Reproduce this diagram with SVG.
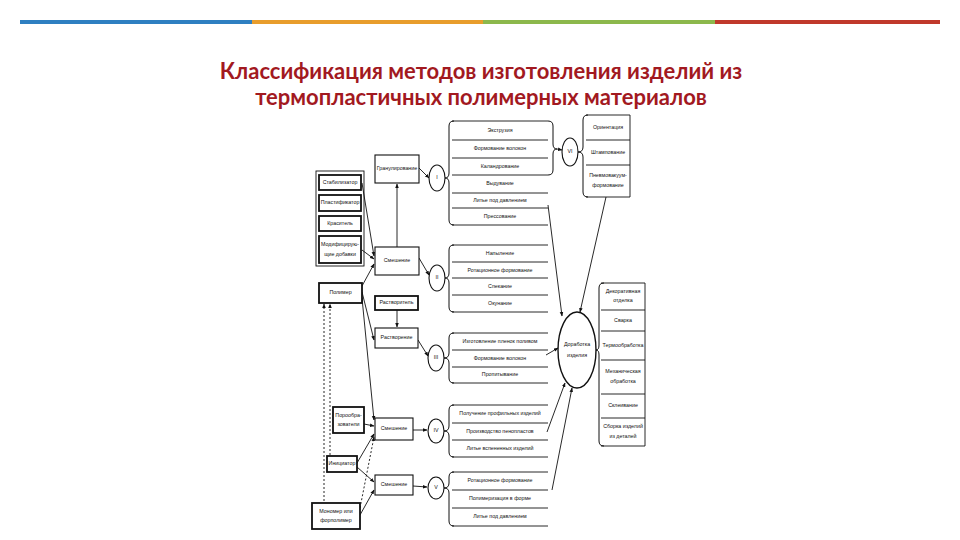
<svg xmlns="http://www.w3.org/2000/svg" width="960" height="540" viewBox="0 0 960 540">
<defs>
<marker id="ah" viewBox="0 0 10 10" refX="9" refY="5" markerWidth="5" markerHeight="5" orient="auto-start-reverse"><path d="M0,1 L10,5 L0,9 Z" fill="#111"/></marker>
<style>
.t{font-family:"Liberation Sans",Arial,sans-serif;font-size:5.3px;fill:#111;text-anchor:middle;dominant-baseline:middle}
.b{fill:#fff;stroke:#111;stroke-width:1.1}
.bx{fill:#fff;stroke:#111;stroke-width:1.8}
.r{stroke:#111;stroke-width:0.9;fill:none}
.br{stroke:#111;stroke-width:1;fill:none}
.c{stroke:#111;stroke-width:0.9;fill:none;marker-end:url(#ah)}
.d{stroke:#111;stroke-width:0.9;fill:none;stroke-dasharray:2 2;marker-end:url(#ah)}
.title{font-family:Lato,"Open Sans",sans-serif;font-weight:bold;font-size:22px;fill:#a2191f;text-anchor:middle}
</style>
</defs>
<rect width="960" height="540" fill="#fff"/>
<rect x="20" y="20" width="232" height="4" fill="#2e7fc1"/>
<rect x="252" y="20" width="231" height="4" fill="#e89d2c"/>
<rect x="483" y="20" width="232" height="4" fill="#8cb84c"/>
<rect x="715" y="20" width="225" height="4" fill="#c0392b"/>
<text class="title" x="481" y="79">Классификация методов изготовления изделий из</text>
<text class="title" x="481" y="105">термопластичных полимерных материалов</text>

<g id="connectors">
<path class="c" d="M397,247 L397,184"/>
<path class="c" d="M397,310 L397,327"/>
<path class="c" d="M419,168 L429,178"/>
<path class="c" d="M419,258 L429,275"/>
<path class="c" d="M418,340 L428,356"/>
<path class="c" d="M413,430 L427,430"/>
<path class="c" d="M413,486 L427,487"/>
<path class="c" d="M362,183 L374,256"/>
<path class="c" d="M362,250 L374,259"/>
<path class="c" d="M362,286 L374,264"/>
<path class="c" d="M362,292 L374,340"/>
<path class="c" d="M362,298 L374,420"/>
<path class="c" d="M364,424 L374,426"/>
<path class="c" d="M357,463 L374,434"/>
<path class="c" d="M357,467 L374,482"/>
<path class="d" d="M360,508 L374,437"/>
<path class="c" d="M360,515 L374,490"/>
<path class="d" d="M324,505 L324,304"/>
<path class="d" d="M330,455 L330,304"/>
<path class="c" d="M557,149 L562,150"/>
<path class="c" d="M548,205 L562,316"/>
<path class="c" d="M606,197 L580,312"/>
<path class="c" d="M546,355 L558,348"/>
<path class="c" d="M547,432 L565,383"/>
<path class="c" d="M552,490 L572,388"/>
</g>

<g id="inputs">
<rect class="r" x="316" y="171" width="48" height="95"/>
<g id="n-stab"><rect class="bx" x="319" y="175" width="42" height="15"/><text class="t" x="340" y="182.5">Стабилизатор</text></g>
<g id="n-plast"><rect class="bx" x="319" y="195" width="42" height="16"/><text class="t" x="340" y="203">Пластификатор</text></g>
<g id="n-kras"><rect class="bx" x="319" y="216" width="42" height="15"/><text class="t" x="340" y="223.5">Краситель</text></g>
<g id="n-mod"><rect class="bx" x="319" y="236" width="42" height="27"/><text class="t" x="340" y="245">Модифицирую-</text><text class="t" x="340" y="255">щие добавки</text></g>
</g>
<g id="n-polimer"><rect class="bx" x="319" y="283" width="43" height="20"/><text class="t" x="340.5" y="293">Полимер</text></g>
<g id="n-poro"><rect class="bx" x="333" y="407" width="31" height="26"/><text class="t" x="348.5" y="416">Порообра-</text><text class="t" x="348.5" y="425">зователи</text></g>
<g id="n-inic"><rect class="bx" x="327" y="456" width="30" height="16"/><text class="t" x="342" y="464">Инициатор</text></g>
<g id="n-monomer"><rect class="bx" x="312" y="503" width="48" height="26"/><text class="t" x="336" y="512">Мономер или</text><text class="t" x="336" y="521">форполимер</text></g>

<g id="n-gran"><rect class="b" x="375" y="155" width="44" height="28"/><text class="t" x="397" y="169">Гранулирование</text></g>
<g id="n-smesh1"><rect class="b" x="375" y="247" width="44" height="28"/><text class="t" x="397" y="261">Смешение</text></g>
<g id="n-rastvoritel"><rect class="bx" x="375" y="296" width="43" height="14"/><text class="t" x="396.5" y="303">Растворитель</text></g>
<g id="n-rastvorenie"><rect class="b" x="375" y="328" width="43" height="20"/><text class="t" x="396.5" y="338">Растворение</text></g>
<g id="n-smesh4"><rect class="b" x="375" y="418" width="38" height="22"/><text class="t" x="394" y="429">Смешение</text></g>
<g id="n-smesh5"><rect class="b" x="375" y="475" width="38" height="20"/><text class="t" x="394" y="485">Смешение</text></g>

<g id="c-I"><ellipse class="b" cx="437" cy="178" rx="8" ry="13"/><text class="t" x="437" y="178">I</text></g>
<g id="c-II"><ellipse class="b" cx="437" cy="278" rx="8" ry="13"/><text class="t" x="437" y="278">II</text></g>
<g id="c-III"><ellipse class="b" cx="436" cy="358" rx="8" ry="13"/><text class="t" x="436" y="358">III</text></g>
<g id="c-IV"><ellipse class="b" cx="436" cy="431" rx="8" ry="12"/><text class="t" x="436" y="431">IV</text></g>
<g id="c-V"><ellipse class="b" cx="436" cy="488" rx="8" ry="11"/><text class="t" x="436" y="488">V</text></g>
<g id="c-VI"><ellipse class="b" cx="570" cy="152" rx="8" ry="14"/><text class="t" x="570" y="152">VI</text></g>

<g id="g-I">
<path class="br" d="M454,121 Q449,121 449,126 L449,173 Q449,178 445,178 Q449,178 449,183 L449,220 Q449,225 454,225"/>
<path class="r" d="M452,121 H548 M452,140 H548 M452,158 H548 M452,175 H548 M452,193 H548 M452,208 H548 M452,225 H548"/>
<path class="br" d="M548,121 Q553,121 553,126 L553,144 Q553,149 557,149 Q553,149 553,154 L553,170 Q553,175 548,175"/>
<text class="t" x="500" y="130.5">Экструзия</text>
<text class="t" x="500" y="149">Формование волокон</text>
<text class="t" x="500" y="166.5">Каландрование</text>
<text class="t" x="500" y="184">Выдувание</text>
<text class="t" x="500" y="200.5">Литье под давлением</text>
<text class="t" x="500" y="216.5">Прессование</text>
</g>

<g id="g-VI">
<path class="br" d="M588,115 Q583,115 583,120 L583,147 Q583,152 578,152 Q583,152 583,157 L583,192 Q583,197 588,197"/>
<path class="r" d="M586,115 H630 V197 H586 M586,140 H630 M586,165 H630"/>
<text class="t" x="608" y="128">Ориентация</text>
<text class="t" x="608" y="153">Штампование</text>
<text class="t" x="608" y="176">Пневмовакуум-</text>
<text class="t" x="608" y="186">формование</text>
</g>

<g id="g-II">
<path class="br" d="M454,245 Q449,245 449,250 L449,273 Q449,278 445,278 Q449,278 449,283 L449,307 Q449,312 454,312"/>
<path class="r" d="M452,245 H548 M452,262 H548 M452,278 H548 M452,295 H548 M452,312 H548"/>
<text class="t" x="500" y="254">Напыление</text>
<text class="t" x="500" y="270.5">Ротационное формование</text>
<text class="t" x="500" y="286.5">Спекание</text>
<text class="t" x="500" y="303.5">Окунание</text>
</g>

<g id="g-III">
<path class="br" d="M454,333 Q449,333 449,338 L449,353 Q449,358 444,358 Q449,358 449,363 L449,378 Q449,383 454,383"/>
<path class="r" d="M452,333 H548 M452,350 H548 M452,367 H548 M452,383 H548"/>
<text class="t" x="500" y="341.5">Изготовление пленок поливом</text>
<text class="t" x="500" y="358.5">Формование волокон</text>
<text class="t" x="500" y="375">Пропитывание</text>
</g>

<g id="g-IV">
<path class="br" d="M454,405 Q449,405 449,410 L449,426 Q449,431 444,431 Q449,431 449,436 L449,452 Q449,457 454,457"/>
<path class="r" d="M452,405 H548 M452,423 H548 M452,440 H548 M452,457 H548"/>
<text class="t" x="500" y="414">Получение профильных изделий</text>
<text class="t" x="500" y="431.5">Производство пенопластов</text>
<text class="t" x="500" y="448.5">Литье вспененных изделий</text>
</g>

<g id="g-V">
<path class="br" d="M454,472 Q449,472 449,477 L449,483 Q449,488 444,488 Q449,488 449,493 L449,521 Q449,526 454,526"/>
<path class="r" d="M452,472 H548 M452,490 H548 M452,508 H548 M452,526 H548"/>
<text class="t" x="500" y="481">Ротационное формование</text>
<text class="t" x="500" y="499">Полимеризация в форме</text>
<text class="t" x="500" y="517">Литье под давлением</text>
</g>

<g id="n-dorabotka"><ellipse cx="577" cy="350" rx="19" ry="38" fill="#fff" stroke="#111" stroke-width="1.4"/><text class="t" x="577" y="345">Доработка</text><text class="t" x="577" y="356">изделия</text></g>

<g id="g-dorab">
<path class="br" d="M604,283 Q599,283 599,288 L599,345 Q599,350 596,350 Q599,350 599,355 L599,441 Q599,446 604,446"/>
<path class="r" d="M601,283 H645 V446 H601 M601,310 H645 M601,331 H645 M601,360 H645 M601,394 H645 M601,418 H645"/>
<text class="t" x="623" y="292">Декоративная</text>
<text class="t" x="623" y="301">отделка</text>
<text class="t" x="623" y="320.5">Сварка</text>
<text class="t" x="623" y="345.5">Термообработка</text>
<text class="t" x="623" y="372">Механическая</text>
<text class="t" x="623" y="382">обработка</text>
<text class="t" x="623" y="406">Склеивание</text>
<text class="t" x="623" y="427">Сборка изделий</text>
<text class="t" x="623" y="437">из деталей</text>
</g>
</svg>
